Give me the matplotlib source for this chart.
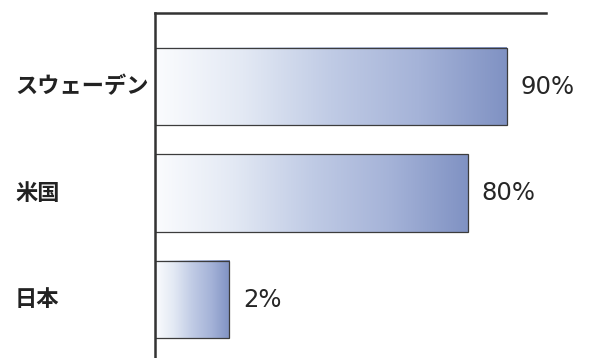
import numpy as np
import matplotlib
matplotlib.use("Agg")
import matplotlib.pyplot as plt
from matplotlib.colors import LinearSegmentedColormap
from matplotlib.patches import Rectangle
from matplotlib.transforms import blended_transform_factory

countries = ["スウェーデン", "米国", "日本"]
values = [90, 80, 2]
value_labels = ["90%", "80%", "2%"]

# the original keeps tiny bars at a visible minimum width
min_width = 19
bar_h = 0.73

plt.rcParams['font.family'] = ['Noto Sans CJK JP', 'DejaVu Sans']

fig = plt.figure(figsize=(5.92, 3.58), dpi=100)
ax = fig.add_axes([155/592, 0, (546-155)/592, 1 - 12.5/358])

cmap = LinearSegmentedColormap.from_list(
    "fade", ["#fbfcfe", "#e3e9f4", "#c0cbe5", "#a5b3d8", "#8092c3"])
grad = np.linspace(0, 1, 256).reshape(1, -1)

for i, (name, v) in enumerate(zip(countries, values)):
    w = max(v, min_width)
    ax.imshow(grad, cmap=cmap, aspect='auto', interpolation='bilinear',
              extent=[0, w, i + bar_h/2, i - bar_h/2], zorder=1)
    ax.add_patch(Rectangle((0, i - bar_h/2), w, bar_h, fill=False,
                           edgecolor='#3c3c3c', linewidth=0.9, zorder=2))
    ax.annotate(value_labels[i], (w, i), xytext=(10, 0), textcoords='offset points',
                va='center', ha='left', fontsize=17.5, color='#262626',
                family='DejaVu Sans')

ax.set_xlim(0, 100)
ax.set_ylim(2.549, -0.695)

trans = blended_transform_factory(fig.transFigure, ax.transData)
for i, name in enumerate(countries):
    ax.text(15/592, i, name, transform=trans, ha='left', va='center',
            fontsize=16, fontweight='bold', color='#222222')

for s in ['right', 'bottom']:
    ax.spines[s].set_visible(False)
ax.spines['left'].set_linewidth(1.8)
ax.spines['top'].set_linewidth(1.8)
ax.spines['left'].set_color('#333333')
ax.spines['top'].set_color('#333333')
ax.set_xticks([])
ax.set_yticks([])

fig.savefig("out.png", dpi=100)
